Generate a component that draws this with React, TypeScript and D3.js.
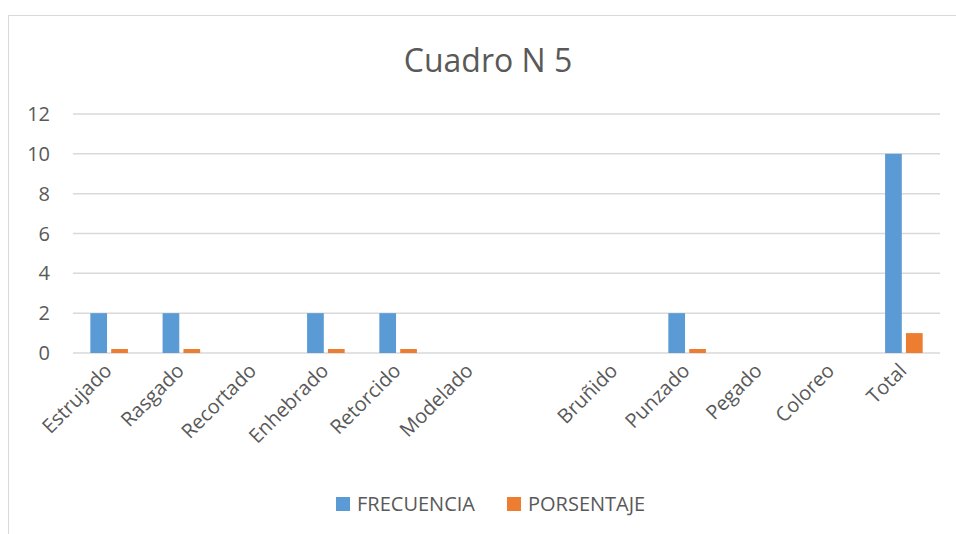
import { useEffect, useRef } from 'react';
import * as d3 from 'd3';

const categories = ['Estrujado', 'Rasgado', 'Recortado', 'Enhebrado', 'Retorcido', 'Modelado', ' ', 'Bruñido', 'Punzado', 'Pegado', 'Coloreo', 'Total'];
const frecuencia = [2, 2, 0, 2, 2, 0, 0, 0, 2, 0, 0, 10];
const porsentaje = [0.2, 0.2, 0, 0.2, 0.2, 0, 0, 0, 0.2, 0, 0, 1];
const seriesNames = ['FRECUENCIA', 'PORSENTAJE'];
const seriesColors = ['#5b9bd5', '#ed7d31'];
const yTicks = [0, 2, 4, 6, 8, 10, 12];

const WIDTH = 956;
const HEIGHT = 534;
const FONT = '"Open Sans", sans-serif';
const TEXT = '#595959';

export default function App() {
  const svgRef = useRef<SVGSVGElement>(null);

  useEffect(() => {
    if (!svgRef.current) return;
    const svg = d3.select(svgRef.current);
    svg.selectAll('*').remove();

    const left = 73, right = 940, top = 114, bottom = 353;

    // chart border
    svg.append('rect')
      .attr('x', 8.5).attr('y', 15.5)
      .attr('width', 1000).attr('height', 1000)
      .attr('fill', 'white')
      .attr('stroke', '#d9d9d9');

    svg.append('text')
      .attr('x', 488).attr('y', 72)
      .attr('text-anchor', 'middle')
      .style('font-family', FONT)
      .style('font-size', '32px')
      .style('fill', TEXT)
      .text('Cuadro N 5');

    const x0 = d3.scaleBand().domain(categories).range([left, right]).padding(0);
    const bw = x0.bandwidth();
    const x1 = d3.scaleBand().domain(seriesNames)
      .range([bw * 0.24, bw * 0.76]).paddingInner(0.2).paddingOuter(0);
    const y = d3.scaleLinear().domain([0, 12]).range([bottom, top]);

    // gridlines
    svg.append('g').selectAll('line')
      .data(yTicks)
      .enter().append('line')
      .attr('x1', left).attr('x2', right)
      .attr('y1', d => y(d)).attr('y2', d => y(d))
      .attr('stroke', '#d9d9d9')
      .attr('stroke-width', 1.5);

    // y labels
    svg.append('g').selectAll('text')
      .data(yTicks)
      .enter().append('text')
      .attr('x', 50)
      .attr('y', d => y(d))
      .attr('dy', '0.35em')
      .attr('text-anchor', 'end')
      .style('font-family', FONT)
      .style('font-size', '20px')
      .style('fill', TEXT)
      .text(d => d);

    const series = [frecuencia, porsentaje];
    series.forEach((vals, si) => {
      svg.append('g').selectAll('rect')
        .data(categories.map((c, i) => ({ c, v: vals[i] })))
        .enter().append('rect')
        .attr('x', d => (x0(d.c) || 0) + (x1(seriesNames[si]) || 0))
        .attr('width', x1.bandwidth())
        .attr('y', d => y(d.v))
        .attr('height', d => y(0) - y(d.v))
        .attr('fill', seriesColors[si]);
    });

    // category labels
    svg.append('g').selectAll('text')
      .data(categories)
      .enter().append('text')
      .attr('transform', d => `translate(${(x0(d) || 0) + bw / 2 - 1},${bottom + 14}) rotate(-45)`)
      .attr('text-anchor', 'end')
      .attr('dy', '0.35em')
      .style('font-family', FONT)
      .style('font-size', '20px')
      .style('fill', TEXT)
      .text(d => d);

    // legend
    const legend = [
      { name: seriesNames[0], color: seriesColors[0], x: 336 },
      { name: seriesNames[1], color: seriesColors[1], x: 507 }
    ];
    const lg = svg.append('g');
    legend.forEach(l => {
      lg.append('rect')
        .attr('x', l.x).attr('y', 497)
        .attr('width', 14).attr('height', 14)
        .attr('fill', l.color);
      lg.append('text')
        .attr('x', l.x + 21).attr('y', 504)
        .attr('dy', '0.35em')
        .style('font-family', FONT)
        .style('font-size', '20px')
        .style('fill', TEXT)
        .text(l.name);
    });
  }, []);

  return (
    <svg ref={svgRef} width={WIDTH} height={HEIGHT}
      style={{ position: 'absolute', left: 0, top: 0, background: 'white' }} />
  );
}
